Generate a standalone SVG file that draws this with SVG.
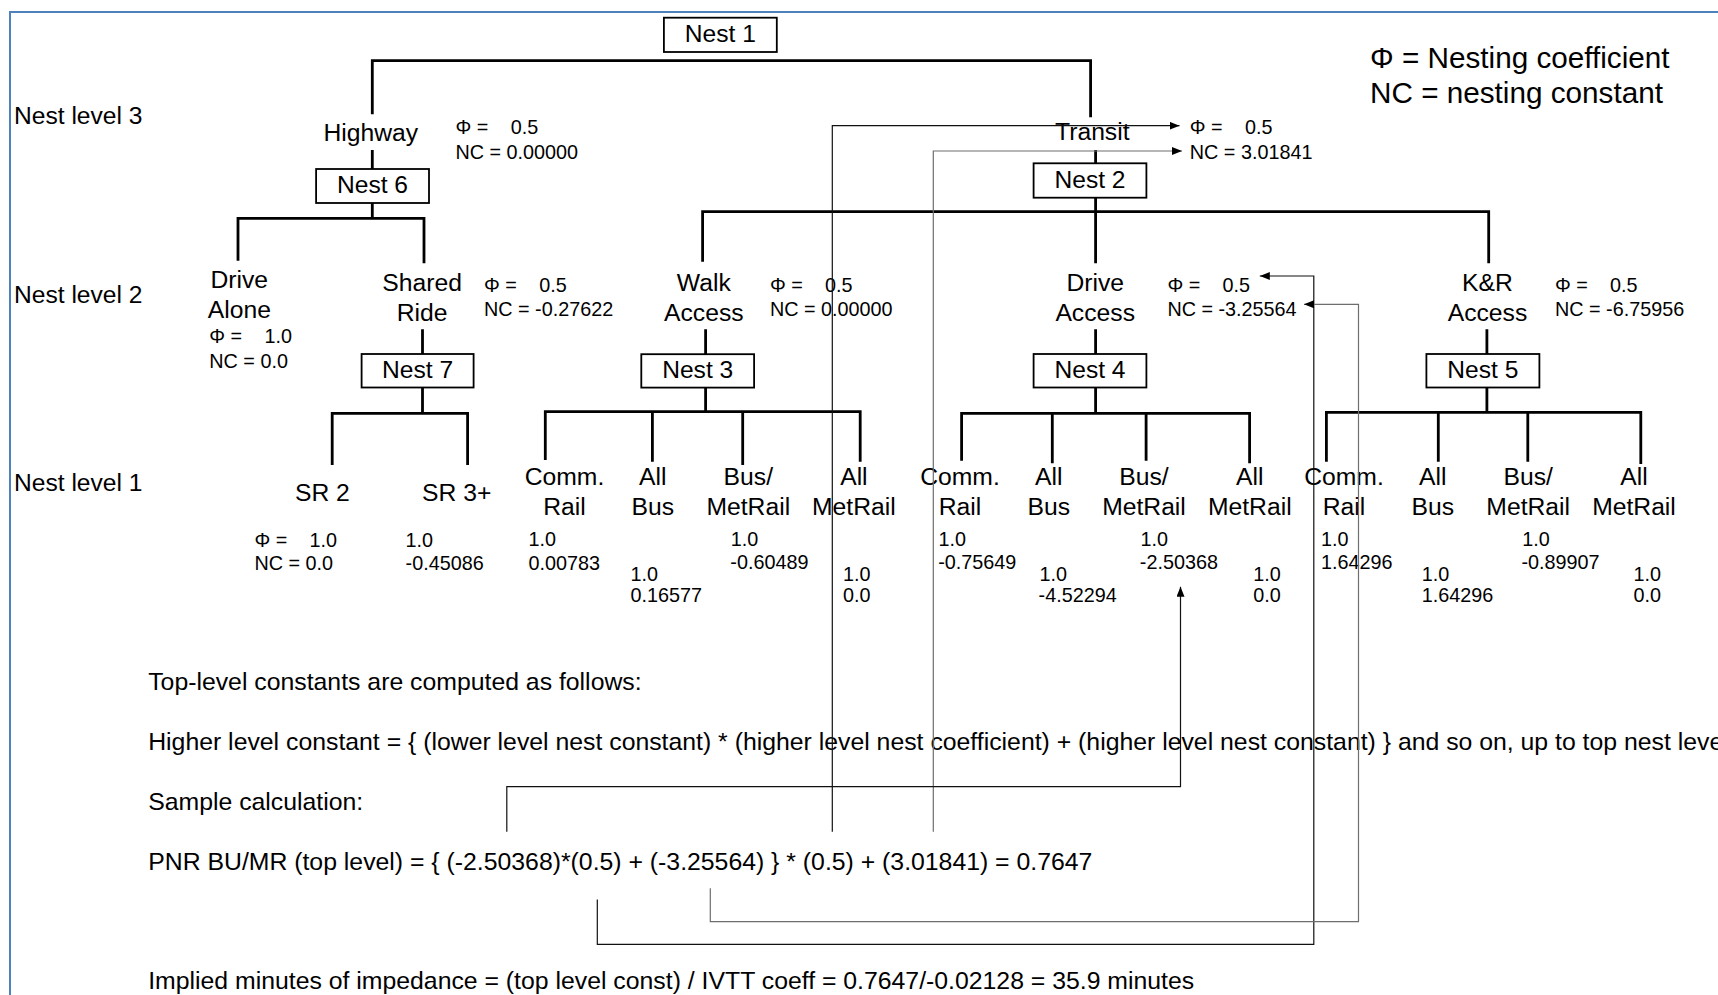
<svg xmlns="http://www.w3.org/2000/svg" width="1718" height="995" viewBox="0 0 1718 995">
<style>
text{font-family:"Liberation Sans",Arial,sans-serif;fill:#000}
.lvl{font-size:24.6px}
.lab{font-size:24.7px;text-anchor:middle}
.nest{font-size:24.6px;text-anchor:middle}
.sm{font-size:19.8px}
.leg{font-size:29.7px}
.note{font-size:24.8px}
.tree{stroke:#000;stroke-width:2.8;fill:none}
.box{fill:#fff;stroke:#000;stroke-width:1.8}
.conn{stroke:#111;stroke-width:1.2;fill:none}
.gr{stroke:#6e6e6e}
</style>
<defs>
<marker id="arr" markerUnits="userSpaceOnUse" markerWidth="10" markerHeight="8" refX="10" refY="4" orient="auto">
<path d="M0,0 L10,4 L0,8 z" fill="#000"/>
</marker>
</defs>
<rect width="1718" height="995" fill="#fff"/>
<path d="M10,995 V12 H1718" fill="none" stroke="#4f81bd" stroke-width="2"/>

<g id="level-labels">
<text class="lvl" x="14" y="124">Nest level 3</text>
<text class="lvl" x="14" y="303.3">Nest level 2</text>
<text class="lvl" x="14" y="491">Nest level 1</text>
</g>
<g id="legend">
<text class="leg" x="1370" y="68.3">Φ = Nesting coefficient</text>
<text class="leg" x="1370" y="103.3">NC = nesting constant</text>
</g>

<g id="tree-lines">
<path class="tree" d="M372.3,114.3 V60.7 H1090.6 V117.3"/>
<path class="tree" d="M372.3,150 V169 M372.3,203 V218.3 M238,260.7 V218.3 H424 V263.3"/>
<path class="tree" d="M422.5,329.3 V354 M422.5,387.3 V413.3 M332.2,465 V413.3 H467.6 V465"/>
<path class="tree" d="M1095.6,150 V163.3 M1095.6,197.7 V263.3 M702.6,261.7 V211.7 H1488.7 V263.3"/>
<path class="tree" d="M705.6,329.3 V354 M705.6,387.3 V411.7 M545.3,460 V411.7 H860.2 V461.7 M652.4,411.7 V461.7 M742.7,411.7 V465"/>
<path class="tree" d="M1095.6,329.3 V354 M1095.6,387.3 V413.3 M961.6,460.7 V413.3 H1249.6 V463.3 M1052.3,413.3 V463.3 M1146.1,413.3 V460.7"/>
<path class="tree" d="M1486.9,329.3 V354 M1486.9,387.3 V412.3 M1326.4,461.7 V412.3 H1640.8 V464 M1438.3,412.3 V461.7 M1527.8,412.3 V461.7"/>
</g>

<g id="nest1"><rect class="box" x="663.9" y="17.7" width="112.9" height="34.3"/><text class="nest" x="720.3" y="42.3">Nest 1</text></g>
<g id="nest6"><rect class="box" x="316.1" y="169" width="112.9" height="34"/><text class="nest" x="372.5" y="193.3">Nest 6</text></g>
<g id="nest2"><rect class="box" x="1033.6" y="163.3" width="112.8" height="34.4"/><text class="nest" x="1090" y="188.3">Nest 2</text></g>
<g id="nest7"><rect class="box" x="361.6" y="354" width="112" height="33.5"/><text class="nest" x="417.6" y="377.5">Nest 7</text></g>
<g id="nest3"><rect class="box" x="641.3" y="354.2" width="112.8" height="33.4"/><text class="nest" x="697.7" y="377.5">Nest 3</text></g>
<g id="nest4"><rect class="box" x="1033.6" y="354" width="112.8" height="33.5"/><text class="nest" x="1090" y="377.5">Nest 4</text></g>
<g id="nest5"><rect class="box" x="1426.4" y="354" width="113" height="33.5"/><text class="nest" x="1482.9" y="377.5">Nest 5</text></g>

<g id="highway">
<text class="lab" x="370.8" y="141">Highway</text>
<text class="sm" x="455.4" y="134.3">Φ =<tspan x="510.7">0.5</tspan></text>
<text class="sm" x="455.4" y="159.3">NC = 0.00000</text>
</g>
<g id="transit">
<text class="lab" x="1092.3" y="140">Transit</text>
<text class="sm" x="1189.8" y="134.3">Φ =<tspan x="1245">0.5</tspan></text>
<text class="sm" x="1189.8" y="159.3">NC = 3.01841</text>
</g>

<g id="drive-alone">
<text class="lab" x="239.3" y="288.3">Drive</text>
<text class="lab" x="239.3" y="318.3">Alone</text>
<text class="sm" x="209.3" y="343.3">Φ =<tspan x="264.6">1.0</tspan></text>
<text class="sm" x="209.3" y="367.7">NC = 0.0</text>
</g>
<g id="shared-ride">
<text class="lab" x="422.1" y="291">Shared</text>
<text class="lab" x="422.1" y="320.7">Ride</text>
<text class="sm" x="484" y="292">Φ =<tspan x="539.2">0.5</tspan></text>
<text class="sm" x="484" y="315.8">NC = -0.27622</text>
</g>
<g id="walk-access">
<text class="lab" x="703.8" y="291">Walk</text>
<text class="lab" x="703.8" y="320.7">Access</text>
<text class="sm" x="770" y="292">Φ =<tspan x="825">0.5</tspan></text>
<text class="sm" x="770" y="315.8">NC = 0.00000</text>
</g>
<g id="drive-access">
<text class="lab" x="1095.2" y="291">Drive</text>
<text class="lab" x="1095.2" y="320.7">Access</text>
<text class="sm" x="1167.4" y="292">Φ =<tspan x="1222.4">0.5</tspan></text>
<text class="sm" x="1167.4" y="315.8">NC = -3.25564</text>
</g>
<g id="kr-access">
<text class="lab" x="1487.5" y="291">K&amp;R</text>
<text class="lab" x="1487.5" y="320.7">Access</text>
<text class="sm" x="1555" y="292">Φ =<tspan x="1610">0.5</tspan></text>
<text class="sm" x="1555" y="315.8">NC = -6.75956</text>
</g>

<g id="sr2">
<text class="lab" x="322.4" y="500.7">SR 2</text>
<text class="sm" x="254.5" y="546.5">Φ =<tspan x="309.5">1.0</tspan></text>
<text class="sm" x="254.5" y="570">NC = 0.0</text>
</g>
<g id="sr3">
<text class="lab" x="456.7" y="500.7">SR 3+</text>
<text class="sm" x="405.6" y="546.5">1.0</text>
<text class="sm" x="405.6" y="570">-0.45086</text>
</g>

<g id="walk-comm-rail">
<text class="lab" x="564.5" y="485.3">Comm.</text><text class="lab" x="564.5" y="515">Rail</text>
<text class="sm" x="528.5" y="546">1.0</text><text class="sm" x="528.5" y="569.5">0.00783</text>
</g>
<g id="walk-all-bus">
<text class="lab" x="652.8" y="485.3">All</text><text class="lab" x="652.8" y="515">Bus</text>
<text class="sm" x="630.6" y="580.7">1.0</text><text class="sm" x="630.6" y="602.3">0.16577</text>
</g>
<g id="walk-bus-metrail">
<text class="lab" x="748.3" y="485.3">Bus/</text><text class="lab" x="748.3" y="515">MetRail</text>
<text class="sm" x="730.8" y="545.7">1.0</text><text class="sm" x="730.3" y="569">-0.60489</text>
</g>
<g id="walk-all-metrail">
<text class="lab" x="853.9" y="485.3">All</text><text class="lab" x="853.9" y="515">MetRail</text>
<text class="sm" x="843" y="580.7">1.0</text><text class="sm" x="843" y="602.3">0.0</text>
</g>

<g id="drive-comm-rail">
<text class="lab" x="960" y="485.3">Comm.</text><text class="lab" x="960" y="515">Rail</text>
<text class="sm" x="938.6" y="545.7">1.0</text><text class="sm" x="938.2" y="569">-0.75649</text>
</g>
<g id="drive-all-bus">
<text class="lab" x="1048.8" y="485.3">All</text><text class="lab" x="1048.8" y="515">Bus</text>
<text class="sm" x="1039.6" y="580.7">1.0</text><text class="sm" x="1038.6" y="602.3">-4.52294</text>
</g>
<g id="drive-bus-metrail">
<text class="lab" x="1144" y="485.3">Bus/</text><text class="lab" x="1144" y="515">MetRail</text>
<text class="sm" x="1140.5" y="545.7">1.0</text><text class="sm" x="1139.8" y="569">-2.50368</text>
</g>
<g id="drive-all-metrail">
<text class="lab" x="1249.8" y="485.3">All</text><text class="lab" x="1249.8" y="515">MetRail</text>
<text class="sm" x="1253.2" y="580.7">1.0</text><text class="sm" x="1253.2" y="602.3">0.0</text>
</g>

<g id="kr-comm-rail">
<text class="lab" x="1344" y="485.3">Comm.</text><text class="lab" x="1344" y="515">Rail</text>
<text class="sm" x="1321" y="545.7">1.0</text><text class="sm" x="1321" y="569">1.64296</text>
</g>
<g id="kr-all-bus">
<text class="lab" x="1432.8" y="485.3">All</text><text class="lab" x="1432.8" y="515">Bus</text>
<text class="sm" x="1421.7" y="580.7">1.0</text><text class="sm" x="1421.7" y="602.3">1.64296</text>
</g>
<g id="kr-bus-metrail">
<text class="lab" x="1528.2" y="485.3">Bus/</text><text class="lab" x="1528.2" y="515">MetRail</text>
<text class="sm" x="1522.3" y="545.7">1.0</text><text class="sm" x="1521.5" y="569">-0.89907</text>
</g>
<g id="kr-all-metrail">
<text class="lab" x="1634" y="485.3">All</text><text class="lab" x="1634" y="515">MetRail</text>
<text class="sm" x="1633.6" y="580.7">1.0</text><text class="sm" x="1633.6" y="602.3">0.0</text>
</g>

<g id="notes">
<text class="note" x="148.2" y="690">Top-level constants are computed as follows:</text>
<text class="note" x="148.2" y="750">Higher level constant = { (lower level nest constant) * (higher level nest coefficient) + (higher level nest constant) } and so on, up to top nest level</text>
<text class="note" x="148.2" y="810">Sample calculation:</text>
<text class="note" x="148.2" y="870">PNR BU/MR (top level) = { (-2.50368)*(0.5) + (-3.25564) } * (0.5) + (3.01841) = 0.7647</text>
<text class="note" x="148.2" y="989">Implied minutes of impedance = (top level const) / IVTT coeff = 0.7647/-0.02128 = 35.9 minutes</text>
</g>

<g id="connectors">
<path class="conn" d="M832.3,831.7 V125.7 H1179.5" marker-end="url(#arr)"/>
<path class="conn gr" d="M933.3,831.7 V151 H1182" marker-end="url(#arr)"/>
<path class="conn" d="M597.3,899.5 V944.3 H1313.8 V276 H1259.8" marker-end="url(#arr)"/>
<path class="conn gr" d="M710.3,888.3 V921.7 H1358.5 V304.3 H1304" marker-end="url(#arr)"/>
<path class="conn" d="M506.8,831.7 V786.7 H1180.5 V586.7" marker-end="url(#arr)"/>
</g>
</svg>
